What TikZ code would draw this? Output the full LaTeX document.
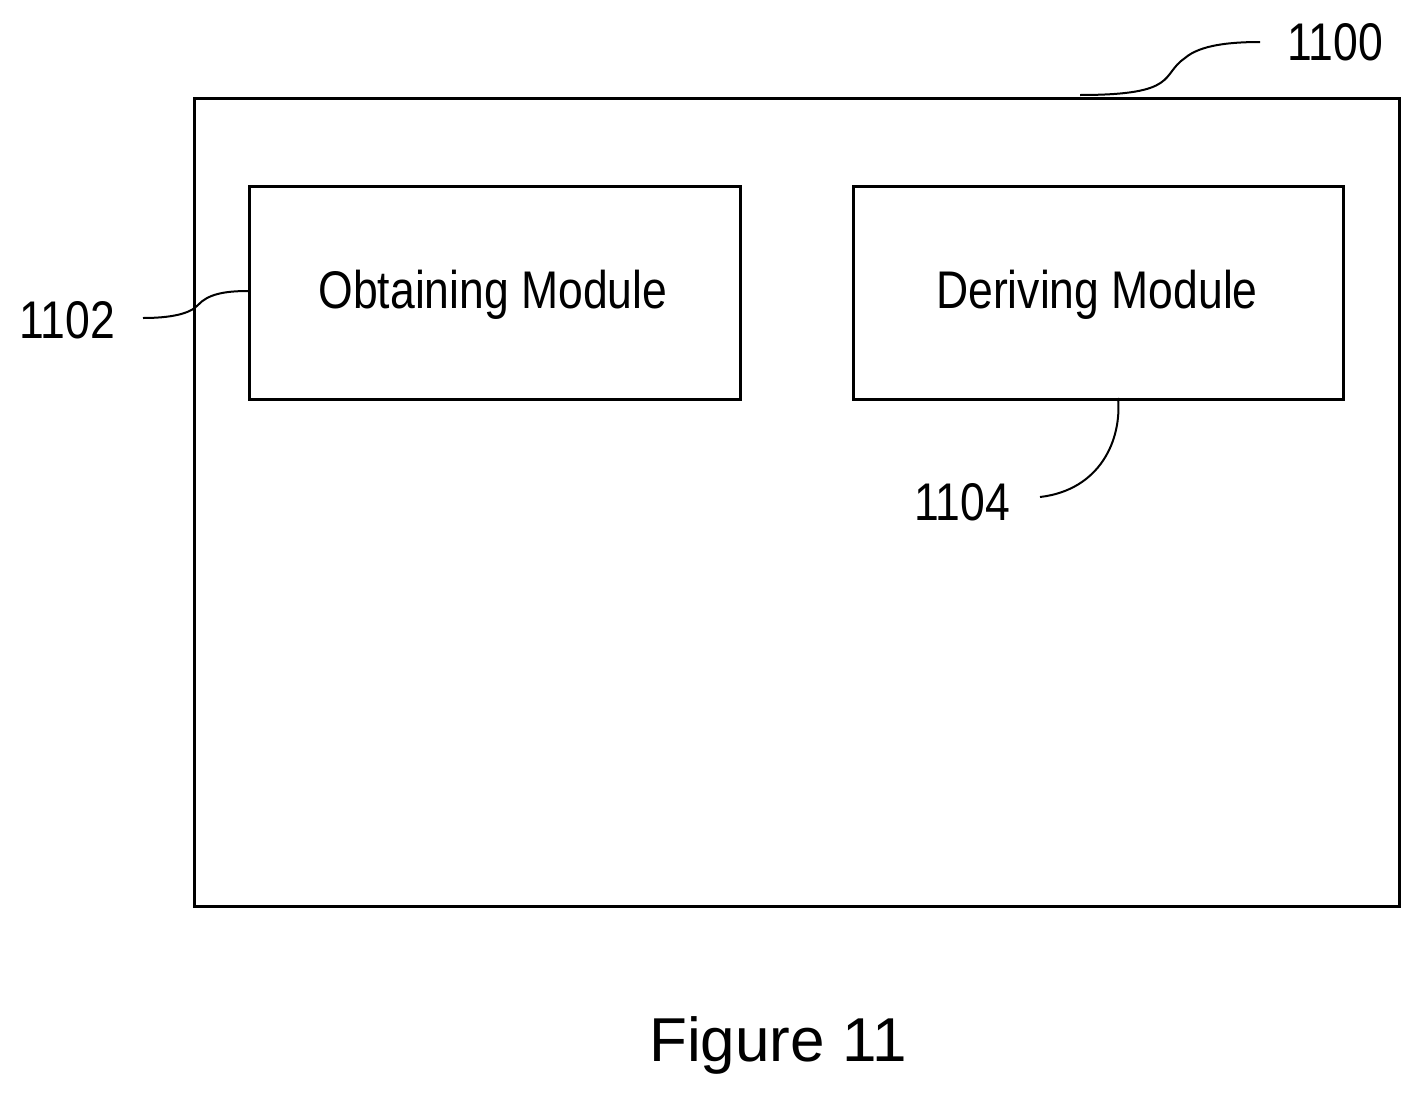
\documentclass[tikz,border=0pt]{standalone}
\usepackage{fontspec}
\setmainfont{Liberation Sans}
\newfontfamily\narrowfont[FakeStretch=0.84]{Liberation Sans}
\begin{document}
\begin{tikzpicture}[x=1pt,y=-1pt,
  box/.style={draw,line width=3pt},
  lbl/.style={font=\narrowfont\fontsize{53}{60}\selectfont,inner sep=0pt},
  lead/.style={line width=2pt}]
\useasboundingbox (0,0) rectangle (1420,1100);
\node[box,minimum width=1205pt,minimum height=808pt,anchor=north west] (outer) at (193,97) {};
\node[box,minimum width=491pt,minimum height=213pt,anchor=north west,lbl] (obt) at (248,185) {};
\node[lbl] at (493,295) {Obtaining Module};
\node[box,minimum width=490pt,minimum height=213pt,anchor=north west] (der) at (852,185) {};
\node[lbl] at (1097,295) {Deriving Module};
\node[lbl] (l1100) at (1335,42) {1100};
\node[lbl] (l1102) at (67,320) {1102};
\node[lbl] (l1104) at (962,502) {1104};
\node[font=\fontsize{62}{70}\selectfont,inner sep=0pt] (fig) at (778,1045) {Figure 11};
\coordinate (c1) at (1080,95);
\coordinate (c2) at (1260,42);
\draw[lead] (c1) .. controls (1180,95) and (1160,75) .. (1185,58) .. controls (1200,45) and (1230,42) .. (c2);
\coordinate (d1) at (143,318);
\coordinate (d2) at (248,291);
\draw[lead] (d1) .. controls (170,318) and (190,314) .. (198,305) .. controls (208,294) and (225,291) .. (d2);
\coordinate (e1) at (1118,398);
\coordinate (e2) at (1040,497);
\draw[lead] (e1) .. controls (1122,440) and (1100,490) .. (e2);
\end{tikzpicture}
\end{document}
